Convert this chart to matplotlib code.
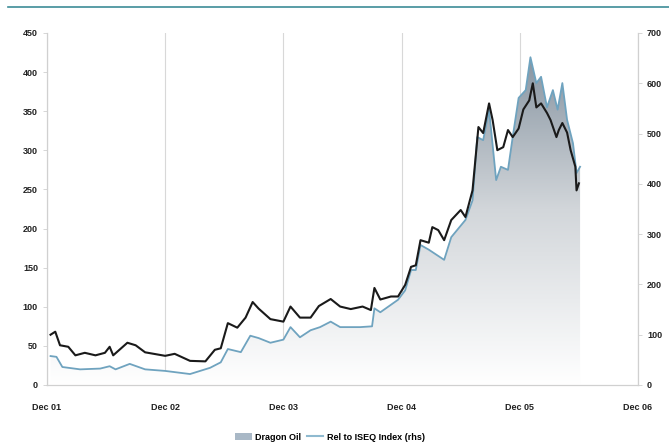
import matplotlib
matplotlib.use("Agg")
import matplotlib.pyplot as plt
import numpy as np
from matplotlib.colors import LinearSegmentedColormap
from matplotlib.lines import Line2D
from matplotlib.patches import Patch

plt.rcParams['font.family'] = ['Liberation Sans Narrow', 'Liberation Sans', 'DejaVu Sans']

# years since Dec 01
oil_t = [0.03, 0.08, 0.13, 0.28, 0.45, 0.53, 0.58, 0.70, 0.83, 1.00, 1.21, 1.38, 1.47, 1.53,
         1.64, 1.72, 1.79, 1.89, 2.00, 2.06, 2.14, 2.23, 2.31, 2.40, 2.48, 2.65, 2.75, 2.77,
         2.82, 2.97, 3.03, 3.08, 3.12, 3.16, 3.23, 3.36, 3.42, 3.54, 3.60, 3.64, 3.69, 3.74,
         3.80, 3.84, 3.90, 3.94, 3.99, 4.05, 4.09, 4.14, 4.18, 4.23, 4.28, 4.32, 4.36, 4.40,
         4.45, 4.48, 4.51]
oil = [37, 36, 23, 20, 21, 24, 20, 27, 20, 18, 14, 22, 29, 46,
       42, 63, 60, 54, 58, 74, 61, 70, 74, 81, 74, 74, 75, 98,
       93, 109, 121, 147, 147, 179, 173, 160, 189, 211, 236, 317, 313, 352,
       262, 279, 275, 317, 367, 377, 419, 386, 394, 355, 377, 352, 386, 339,
       309, 271, 279]

rel_t = [0.03, 0.07, 0.11, 0.18, 0.24, 0.32, 0.41, 0.49, 0.53, 0.56, 0.68, 0.75, 0.83, 1.00,
         1.08, 1.21, 1.34, 1.42, 1.47, 1.53, 1.61, 1.68, 1.74, 1.79, 1.89, 2.00, 2.06, 2.14,
         2.23, 2.30, 2.40, 2.48, 2.57, 2.67, 2.74, 2.77, 2.82, 2.91, 2.97, 3.03, 3.08, 3.12,
         3.16, 3.23, 3.26, 3.31, 3.36, 3.42, 3.50, 3.54, 3.60, 3.65, 3.69, 3.74, 3.77, 3.81,
         3.86, 3.90, 3.94, 3.99, 4.03, 4.08, 4.11, 4.14, 4.18, 4.23, 4.26, 4.31, 4.33, 4.36,
         4.40, 4.43, 4.47, 4.48, 4.50]
rel = [100, 106, 79, 76, 59, 64, 59, 64, 76, 59, 84, 79, 65, 58,
       62, 48, 47, 70, 73, 123, 114, 134, 165, 152, 131, 126, 156, 134,
       134, 157, 171, 156, 151, 156, 149, 193, 170, 176, 176, 199, 235, 238,
       288, 283, 314, 308, 288, 328, 348, 334, 387, 513, 501, 560, 527, 467,
       473, 507, 493, 510, 548, 566, 600, 552, 560, 541, 527, 493, 507, 521,
       502, 467, 434, 387, 401]

xlabels = ['Dec 01', 'Dec 02', 'Dec 03', 'Dec 04', 'Dec 05', 'Dec 06']

fig = plt.figure(figsize=(6.69, 4.47), dpi=100)
ax = fig.add_axes([47/669, 1-385/447, 591/669, 352/447])
ax2 = ax.twinx()

# gradient area for Dragon Oil
cmap = LinearSegmentedColormap.from_list('g', ['#ffffff', '#d2d6da', '#7c8b99'])
grad = np.linspace(0, 1, 256).reshape(-1, 1)
im = ax.imshow(grad, extent=[0, 5, 0, 450], origin='lower', aspect='auto', cmap=cmap, zorder=1)
poly = ax.fill_between(oil_t, oil, 0, color='none', lw=0)
im.set_clip_path(poly.get_paths()[0], transform=ax.transData)
ax.plot(oil_t, oil, color='#6fa3bf', lw=1.3, zorder=3)

ax2.plot(rel_t, rel, color='#1a1a1a', lw=1.5)

ax.set_xlim(0, 5)
ax.set_ylim(0, 450)
ax2.set_ylim(0, 700)
ax.set_yticks(range(0, 451, 50))
ax2.set_yticks(range(0, 701, 100))
ax.set_xticks(range(6))
ax.set_xticklabels(xlabels)
for a in (ax, ax2):
    for s in a.spines.values():
        s.set_color('#d0d0d0')
    a.spines['top'].set_visible(False)
    a.tick_params(colors='#d0d0d0', labelcolor='#222222', labelsize=6.5, length=3, width=0.6)
ax.tick_params(axis='x', length=0, pad=13)
for lab in ax.get_xticklabels() + ax.get_yticklabels() + ax2.get_yticklabels():
    lab.set_fontweight('bold')
ax.grid(axis='x', color='#d8d8d8', lw=0.8)
ax.set_axisbelow(True)

fig.add_artist(Line2D([8/669, 1], [1-7/447, 1-7/447], color='#3d8c97', lw=1.2))

handles = [Patch(facecolor='#a9b8c6', edgecolor='none'),
           Line2D([0], [0], color='#8fbad0', lw=1.5)]
fig.legend(handles, ['Dragon Oil', 'Rel to ISEQ Index (rhs)'], loc='center',
           bbox_to_anchor=(330/669, 1-437/447), ncol=2, frameon=False,
           prop={'size': 6.5, 'weight': 'bold'}, handlelength=1.8, columnspacing=0.6,
           handletextpad=0.4)

fig.savefig('out.png', dpi=100)
